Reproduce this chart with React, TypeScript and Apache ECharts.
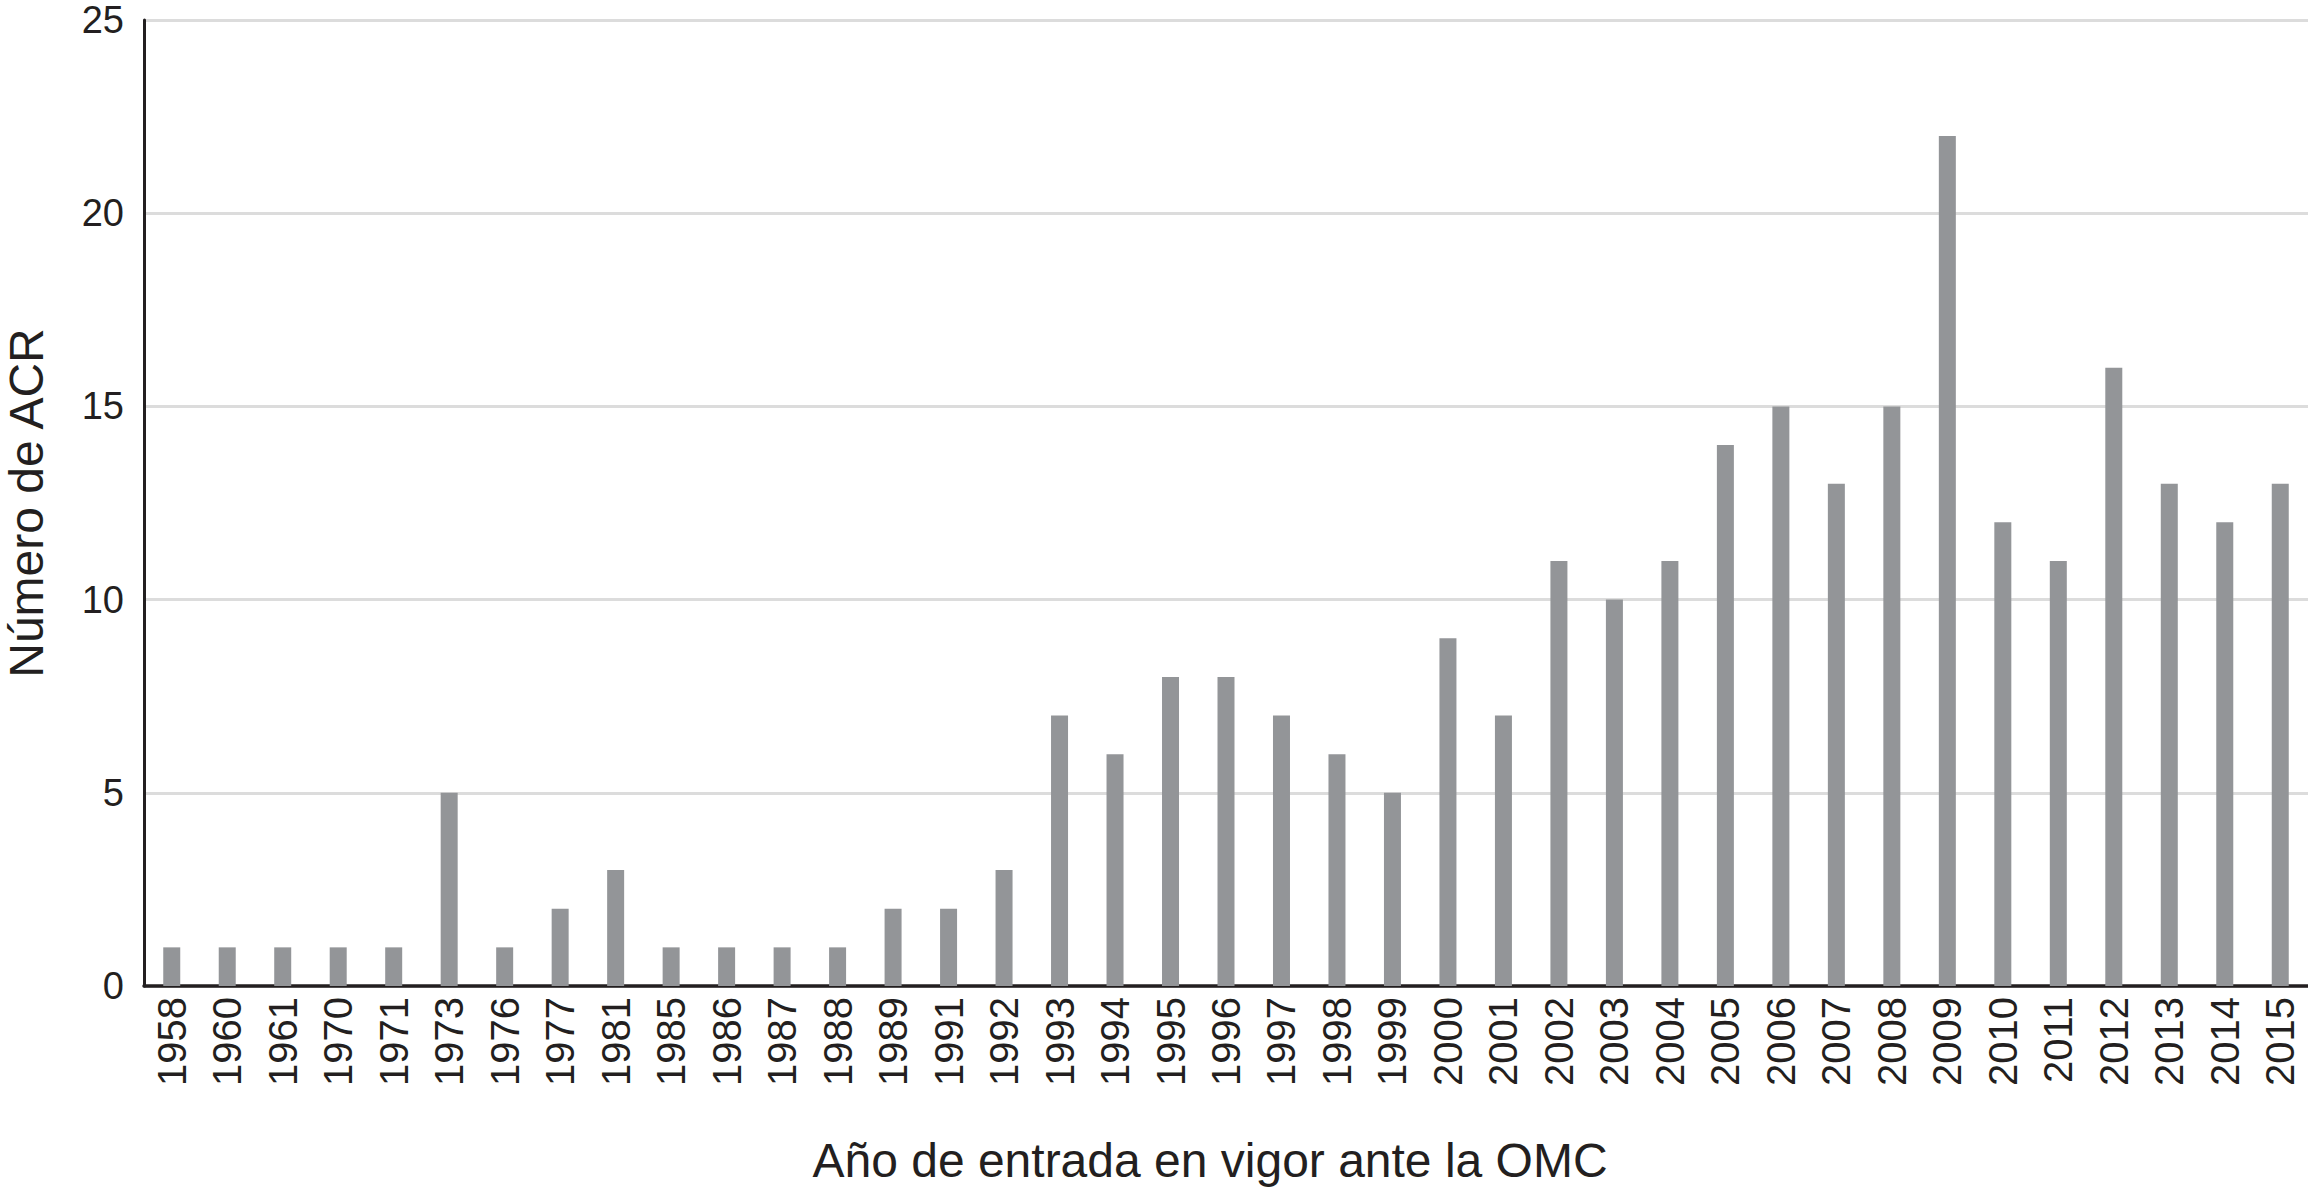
import React, { useEffect, useRef } from "react";
import * as echarts from "echarts";

const years = [
  "1958", "1960", "1961", "1970", "1971", "1973", "1976", "1977", "1981", "1985",
  "1986", "1987", "1988", "1989", "1991", "1992", "1993", "1994", "1995", "1996",
  "1997", "1998", "1999", "2000", "2001", "2002", "2003", "2004", "2005", "2006",
  "2007", "2008", "2009", "2010", "2011", "2012", "2013", "2014", "2015",
];
const counts = [
  1, 1, 1, 1, 1, 5, 1, 2, 3, 1,
  1, 1, 1, 2, 2, 3, 7, 6, 8, 8,
  7, 6, 5, 9, 7, 11, 10, 11, 14, 15,
  13, 15, 22, 12, 11, 16, 13, 12, 13,
];
const yTicks = { min: 0, max: 25, interval: 5 };
const xTitle = "Año de entrada en vigor ante la OMC";
const yTitle = "Número de ACR";

const FONT = "'Liberation Sans', Arial, Helvetica, sans-serif";
const TEXT = "#231f20";

export default function App() {
  const ref = useRef<HTMLDivElement>(null);
  useEffect(() => {
    if (!ref.current) return;
    const chart = echarts.init(ref.current, undefined, { renderer: "svg" });
    chart.setOption({
      animation: false,
      backgroundColor: "#ffffff",
      textStyle: { fontFamily: FONT },
      grid: {
        left: 144,
        right: 0,
        top: 20,
        bottom: 202,
        containLabel: false,
        outerBoundsMode: "none",
      },
      xAxis: {
        type: "category",
        data: years,
        boundaryGap: true,
        axisLine: { show: true, lineStyle: { color: TEXT, width: 3.5 } },
        axisTick: { show: false },
        axisLabel: {
          rotate: 90,
          interval: 0,
          margin: 11,
          fontSize: 40,
          color: TEXT,
          fontFamily: FONT,
        },
        name: xTitle,
        nameLocation: "middle",
        nameGap: 150,
        nameTextStyle: {
          fontSize: 48,
          color: TEXT,
          fontFamily: FONT,
          padding: [0, 32, 0, 0],
        },
      },
      yAxis: {
        type: "value",
        min: yTicks.min,
        max: yTicks.max,
        interval: yTicks.interval,
        axisLine: { show: true, lineStyle: { color: TEXT, width: 3 } },
        axisTick: { show: false },
        splitLine: { show: true, lineStyle: { color: "#dcdcdc", width: 3 } },
        axisLabel: { margin: 20, fontSize: 38, color: TEXT, fontFamily: FONT },
        name: yTitle,
        nameLocation: "middle",
        nameRotate: 90,
        nameGap: 94,
        nameTextStyle: { fontSize: 48, color: TEXT, fontFamily: FONT },
      },
      series: [
        {
          type: "bar",
          data: counts,
          barWidth: 17,
          itemStyle: { color: "#939598" },
        },
      ],
    });
    return () => chart.dispose();
  }, []);
  return (
    <div
      ref={ref}
      style={{ position: "absolute", left: 0, top: 0, width: 2308, height: 1188 }}
    />
  );
}
